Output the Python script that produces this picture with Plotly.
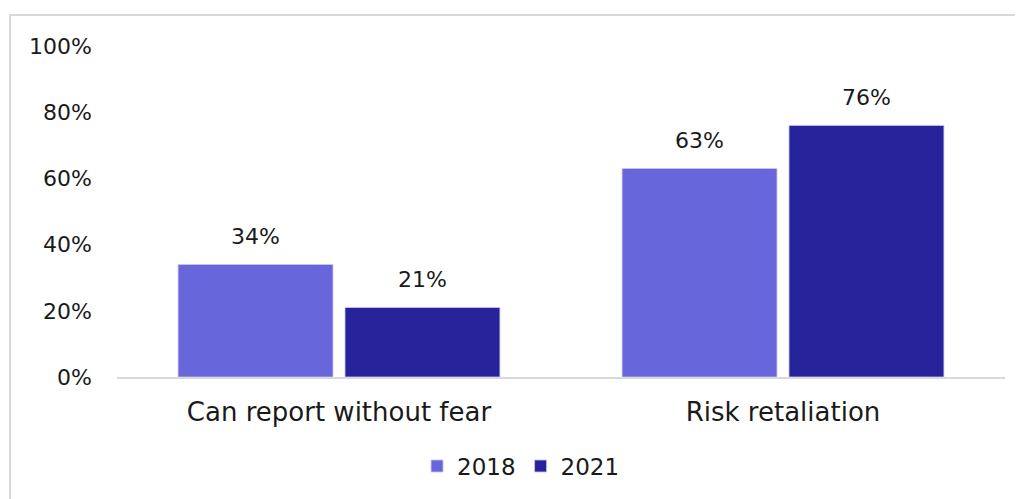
import plotly.graph_objects as go

categories = ["Can report without fear", "Risk retaliation"]
years = ["2018", "2021"]
values_2018 = [34, 63]
values_2021 = [21, 76]
colors = ["#6766DB", "#27239A"]

FONT = "DejaVu Sans"
TXT = "#1a1a1a"
SLOT_PX = 167  # pixel width of one bar slot

fig = go.Figure()
for name, vals, col in zip(years, [values_2018, values_2021], colors):
    fig.add_trace(go.Bar(
        x=categories, y=vals, name=name,
        marker=dict(color=col, line=dict(color="#c8c8f0", width=0.8)),
    ))

annotations = []
for i, vals in enumerate([values_2018, values_2021]):
    shift = (i - 0.5) * SLOT_PX
    for c, v in zip(categories, vals):
        annotations.append(dict(
            x=c, y=v, xref="x", yref="y", text=f"{v}%", showarrow=False,
            xanchor="center", yanchor="bottom", xshift=shift, yshift=13,
            font=dict(family=FONT, size=22, color=TXT)))

fig.update_layout(
    width=1023, height=499,
    margin=dict(l=109, r=26, t=38, b=130),
    paper_bgcolor="white", plot_bgcolor="white",
    barmode="group", bargap=0.248, bargroupgap=0.072,
    font=dict(family=FONT, size=22, color=TXT),
    showlegend=True,
    legend=dict(orientation="h", x=0.455, xanchor="center", y=-0.269, yanchor="middle",
                font=dict(family=FONT, size=23, color=TXT), traceorder="normal",
                itemwidth=30),
    annotations=annotations,
    shapes=[dict(type="rect", xref="paper", yref="paper",
                 x0=-0.1205, x1=1.05, y0=-0.6, y1=1.0937,
                 line=dict(color="#d9d9d9", width=2), fillcolor="rgba(0,0,0,0)", layer="below")],
)
fig.update_yaxes(range=[0, 100], dtick=20, ticksuffix="%", showgrid=False, zeroline=False,
                 showline=False, ticks="", ticklabelstandoff=24,
                 tickfont=dict(family=FONT, size=22, color=TXT))
fig.update_xaxes(showline=True, linecolor="#d9d9d9", linewidth=2, ticks="",
                 ticklabelstandoff=11, tickfont=dict(family=FONT, size=26, color=TXT))
fig.write_html("out.html")
